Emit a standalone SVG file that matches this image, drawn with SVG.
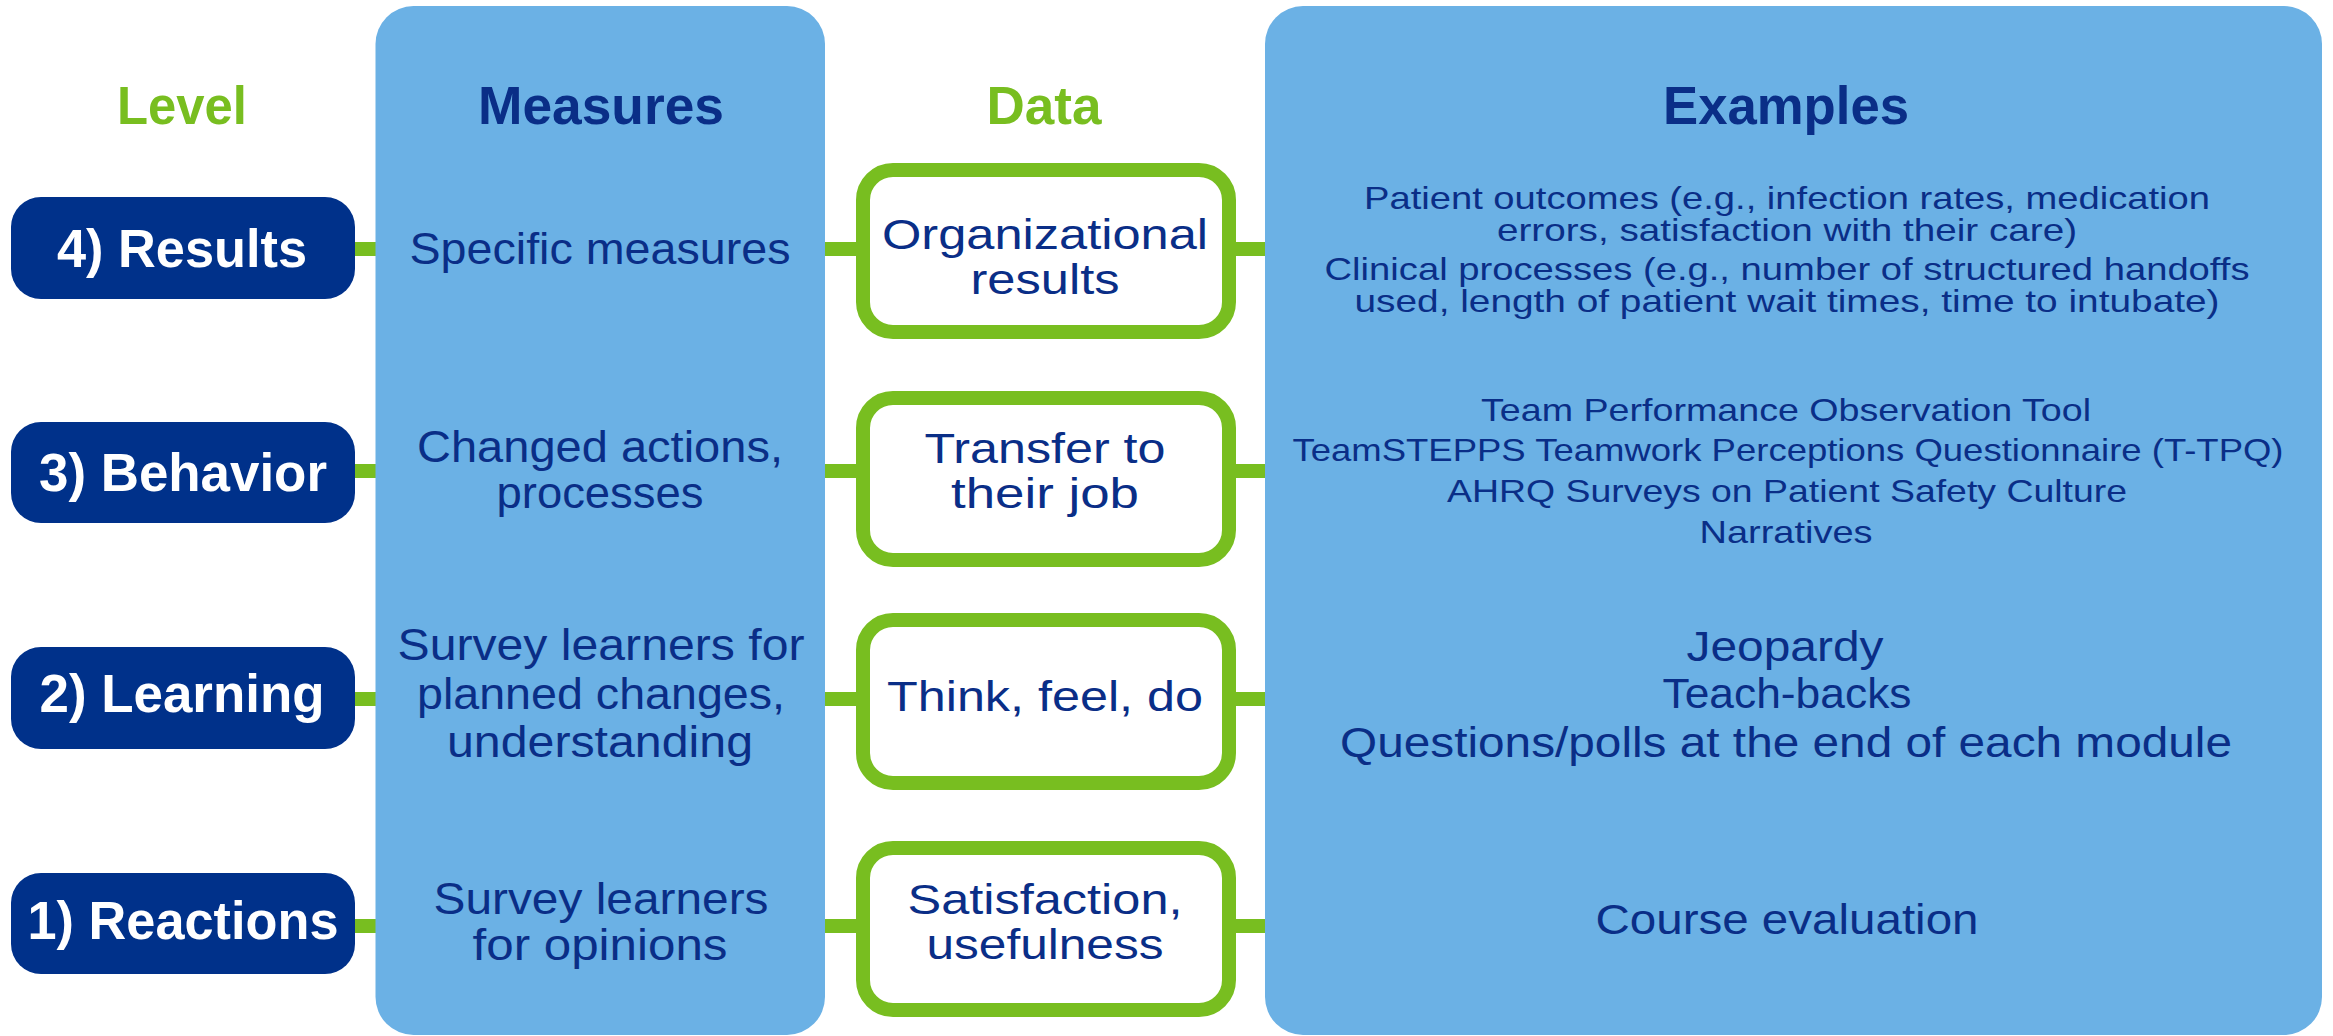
<svg xmlns="http://www.w3.org/2000/svg" width="2333" height="1036" viewBox="0 0 2333 1036">
<style>
.bg{fill:#ffffff}
.panel{fill:#6BB1E5}
.pill{fill:#00318A}
.dbox{fill:#ffffff;stroke:#78BE20;stroke-width:14}
.conn{stroke:#78BE20;stroke-width:14;fill:none}
text{font-family:"Liberation Sans",Arial,sans-serif;text-anchor:middle}
.hdr{font-weight:bold;font-size:53px}
.green{fill:#78BE20}
.navy{fill:#0A2E87}
.pt{font-weight:bold;font-size:53px;fill:#ffffff}
.m{font-size:44px;fill:#0A2E87}
.d{font-size:42px;fill:#0A2E87}
.e1{font-size:32px;fill:#0A2E87}
.e2{font-size:43px;fill:#0A2E87}
</style>
<rect class="bg" x="0" y="0" width="2333" height="1036"/>
<g id="connectors">
<line class="conn" x1="350" y1="249" x2="1270" y2="249"/>
<line class="conn" x1="350" y1="471" x2="1270" y2="471"/>
<line class="conn" x1="350" y1="699" x2="1270" y2="699"/>
<line class="conn" x1="350" y1="926" x2="1270" y2="926"/>
</g>
<g id="header-level"><text class="hdr green" x="182" y="124" textLength="130" lengthAdjust="spacingAndGlyphs">Level</text></g>
<g id="measures">
<rect class="panel" x="375.5" y="6" width="449.5" height="1029" rx="38"/>
<text class="hdr navy" x="601" y="124" textLength="246" lengthAdjust="spacingAndGlyphs">Measures</text>
<text class="m" x="600" y="264" textLength="381" lengthAdjust="spacingAndGlyphs">Specific measures</text>
<text class="m" x="600" y="462" textLength="366" lengthAdjust="spacingAndGlyphs">Changed actions,</text>
<text class="m" x="600" y="508" textLength="207" lengthAdjust="spacingAndGlyphs">processes</text>
<text class="m" x="601" y="660" textLength="407" lengthAdjust="spacingAndGlyphs">Survey learners for</text>
<text class="m" x="601" y="709" textLength="368" lengthAdjust="spacingAndGlyphs">planned changes,</text>
<text class="m" x="600" y="757" textLength="306" lengthAdjust="spacingAndGlyphs">understanding</text>
<text class="m" x="601" y="914" textLength="335" lengthAdjust="spacingAndGlyphs">Survey learners</text>
<text class="m" x="600" y="960" textLength="255" lengthAdjust="spacingAndGlyphs">for opinions</text>
</g>
<g id="header-data"><text class="hdr green" x="1044" y="124" textLength="115" lengthAdjust="spacingAndGlyphs">Data</text></g>
<g id="examples">
<rect class="panel" x="1265" y="6" width="1057" height="1029" rx="38"/>
<text class="hdr navy" x="1786" y="124" textLength="246" lengthAdjust="spacingAndGlyphs">Examples</text>
<text class="e1" x="1787" y="209" textLength="846" lengthAdjust="spacingAndGlyphs">Patient outcomes (e.g., infection rates, medication</text>
<text class="e1" x="1787" y="241" textLength="580" lengthAdjust="spacingAndGlyphs">errors, satisfaction with their care)</text>
<text class="e1" x="1787" y="280" textLength="925" lengthAdjust="spacingAndGlyphs">Clinical processes (e.g., number of structured handoffs</text>
<text class="e1" x="1787" y="312" textLength="865" lengthAdjust="spacingAndGlyphs">used, length of patient wait times, time to intubate)</text>
<text class="e1" x="1786" y="421" textLength="610" lengthAdjust="spacingAndGlyphs">Team Performance Observation Tool</text>
<text class="e1" x="1788" y="461" textLength="991" lengthAdjust="spacingAndGlyphs">TeamSTEPPS Teamwork Perceptions Questionnaire (T-TPQ)</text>
<text class="e1" x="1787" y="502" textLength="680" lengthAdjust="spacingAndGlyphs">AHRQ Surveys on Patient Safety Culture</text>
<text class="e1" x="1786" y="543" textLength="173" lengthAdjust="spacingAndGlyphs">Narratives</text>
<text class="e2" x="1785" y="661" textLength="197" lengthAdjust="spacingAndGlyphs">Jeopardy</text>
<text class="e2" x="1787" y="708" textLength="249" lengthAdjust="spacingAndGlyphs">Teach-backs</text>
<text class="e2" x="1786" y="757" textLength="892" lengthAdjust="spacingAndGlyphs">Questions/polls at the end of each module</text>
<text class="e2" x="1787" y="934" textLength="383" lengthAdjust="spacingAndGlyphs">Course evaluation</text>
</g>
<g id="level-4"><rect class="pill" x="11" y="197" width="344" height="102" rx="30"/><text class="pt" x="182" y="267" textLength="250" lengthAdjust="spacingAndGlyphs">4) Results</text></g>
<g id="level-3"><rect class="pill" x="11" y="422" width="344" height="101" rx="30"/><text class="pt" x="183" y="491" textLength="288" lengthAdjust="spacingAndGlyphs">3) Behavior</text></g>
<g id="level-2"><rect class="pill" x="11" y="647" width="344" height="102" rx="30"/><text class="pt" x="182" y="712" textLength="285" lengthAdjust="spacingAndGlyphs">2) Learning</text></g>
<g id="level-1"><rect class="pill" x="11" y="873" width="344" height="101" rx="30"/><text class="pt" x="183" y="939" textLength="311" lengthAdjust="spacingAndGlyphs">1) Reactions</text></g>
<g id="data-4"><rect class="dbox" x="863" y="170" width="366" height="162" rx="30"/><text class="d" x="1045" y="249" textLength="326" lengthAdjust="spacingAndGlyphs">Organizational</text><text class="d" x="1045" y="294" textLength="149" lengthAdjust="spacingAndGlyphs">results</text></g>
<g id="data-3"><rect class="dbox" x="863" y="398" width="366" height="162" rx="30"/><text class="d" x="1045" y="463" textLength="241" lengthAdjust="spacingAndGlyphs">Transfer to</text><text class="d" x="1045" y="508" textLength="188" lengthAdjust="spacingAndGlyphs">their job</text></g>
<g id="data-2"><rect class="dbox" x="863" y="620" width="366" height="163" rx="30"/><text class="d" x="1045" y="711" textLength="316" lengthAdjust="spacingAndGlyphs">Think, feel, do</text></g>
<g id="data-1"><rect class="dbox" x="863" y="848" width="366" height="162" rx="30"/><text class="d" x="1045" y="914" textLength="275" lengthAdjust="spacingAndGlyphs">Satisfaction,</text><text class="d" x="1045" y="959" textLength="237" lengthAdjust="spacingAndGlyphs">usefulness</text></g>
</svg>
